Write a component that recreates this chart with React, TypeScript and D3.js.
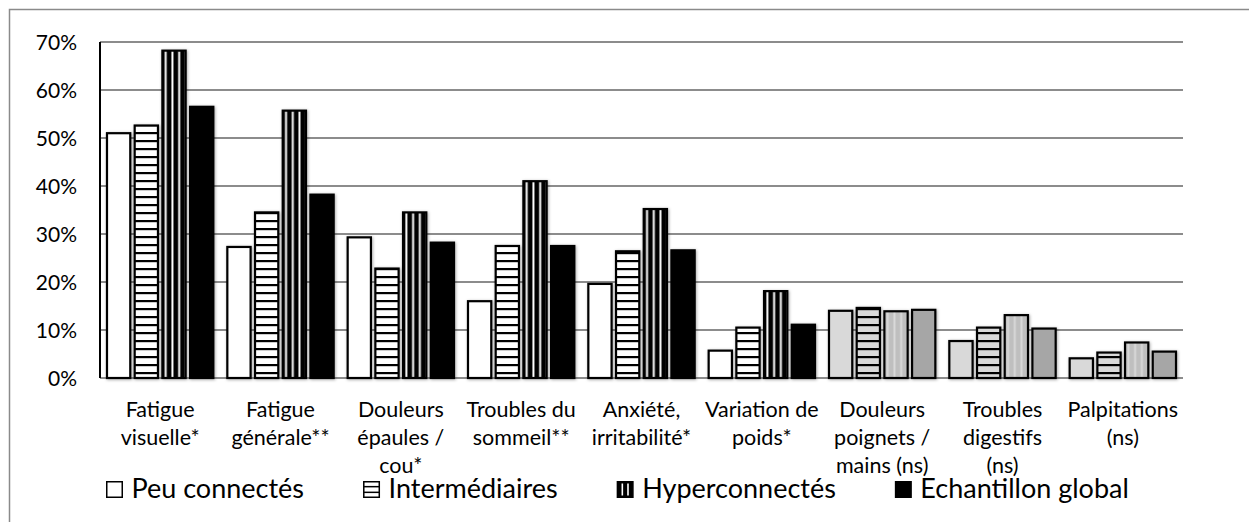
import { useRef, useEffect } from 'react'
import * as d3 from 'd3'

// category labels, already split into lines the way the chart wraps them
const categoryLines = [
  ['Fatigue', 'visuelle*'],
  ['Fatigue', 'générale**'],
  ['Douleurs', 'épaules /', 'cou*'],
  ['Troubles du', 'sommeil**'],
  ['Anxiété,', 'irritabilité*'],
  ['Variation de', 'poids*'],
  ['Douleurs', 'poignets /', 'mains (ns)'],
  ['Troubles', 'digestifs', '(ns)'],
  ['Palpitations', '(ns)'],
]

const seriesNames = ['Peu connectés', 'Intermédiaires', 'Hyperconnectés', 'Echantillon global']

const peuConnectes = [51.0, 27.3, 29.3, 16.0, 19.6, 5.7, 14.0, 7.7, 4.1]
const intermediaires = [52.6, 34.5, 22.8, 27.5, 26.4, 10.5, 14.6, 10.5, 5.3]
const hyperconnectes = [68.2, 55.7, 34.5, 41.0, 35.2, 18.1, 13.9, 13.1, 7.4]
const echantillonGlobal = [56.5, 38.2, 28.2, 27.5, 26.6, 11.1, 14.2, 10.3, 5.5]

const yTicks = [0, 10, 20, 30, 40, 50, 60, 70]

const W = 1249
const H = 522
const FONT = 'Lato, "Open Sans", sans-serif'

export default function App() {
  const svgRef = useRef<SVGSVGElement>(null)

  useEffect(() => {
    document.body.style.margin = '0'
    const svg = d3.select(svgRef.current)
    svg.selectAll('*').remove()

    const margin = { top: 42, right: 66, bottom: 144, left: 100 }
    const innerW = W - margin.left - margin.right
    const innerH = H - margin.top - margin.bottom

    const values = [peuConnectes, intermediaires, hyperconnectes, echantillonGlobal]
    const cats = categoryLines.map(l => l.join(' '))

    const x = d3.scaleBand().domain(cats).range([0, innerW]).padding(0)
    const xs = d3.scaleBand<number>()
      .domain(d3.range(seriesNames.length))
      .range([7, x.bandwidth() - 7])
      .paddingInner(0.16)
    const y = d3.scaleLinear().domain([0, 70]).range([innerH, 0])

    const defs = svg.append('defs')

    const shadow = defs.append('filter').attr('id', 'shadow')
      .attr('x', '-30%').attr('y', '-10%').attr('width', '160%').attr('height', '130%')
    shadow.append('feDropShadow')
      .attr('dx', 0.8).attr('dy', 0.8).attr('stdDeviation', 1.4)
      .attr('flood-color', '#000').attr('flood-opacity', 0.35)

    // horizontal stripes
    const hStripe = (id: string, bg: string) => {
      const p = defs.append('pattern').attr('id', id)
        .attr('patternUnits', 'userSpaceOnUse')
        .attr('y', margin.top + innerH)
        .attr('width', 8).attr('height', 8)
      p.append('rect').attr('width', 8).attr('height', 8).attr('fill', bg)
      p.append('rect').attr('width', 8).attr('height', 2.2).attr('fill', '#000')
    }
    hStripe('hs-white', '#fff')
    hStripe('hs-gray', '#d9d9d9')

    // vertical stripes, relative to each bar
    const vStripe = (id: string, bg: string, fg: string) => {
      const p = defs.append('pattern').attr('id', id)
        .attr('patternUnits', 'objectBoundingBox')
        .attr('patternContentUnits', 'objectBoundingBox')
        .attr('width', 0.29).attr('height', 1)
      p.append('rect').attr('width', 0.29).attr('height', 1).attr('fill', bg)
      p.append('rect').attr('x', 0.1).attr('width', 0.085).attr('height', 1).attr('fill', fg)
    }
    vStripe('vs-black', '#000', '#fff')
    vStripe('vs-gray', '#bfbfbf', '#d9d9d9')

    const fillFor = (s: number, ns: boolean) => {
      if (s === 0) return ns ? '#d9d9d9' : '#fff'
      if (s === 1) return ns ? 'url(#hs-gray)' : 'url(#hs-white)'
      if (s === 2) return ns ? 'url(#vs-gray)' : 'url(#vs-black)'
      return ns ? '#a6a6a6' : '#000'
    }

    // outer chart border
    svg.append('rect')
      .attr('x', 9.5).attr('y', 9.5)
      .attr('width', W + 10).attr('height', H + 10)
      .attr('fill', 'none').attr('stroke', '#8a8a8a').attr('stroke-width', 1.5)

    const g = svg.append('g').attr('transform', `translate(${margin.left},${margin.top})`)

    // grid
    g.selectAll('.grid')
      .data(yTicks)
      .enter()
      .append('line')
      .attr('x1', 0).attr('x2', innerW)
      .attr('y1', d => y(d)).attr('y2', d => y(d))
      .attr('stroke', '#8c8c8c').attr('stroke-width', 1.8)

    // bars
    const bars = g.append('g').attr('filter', 'url(#shadow)')
    cats.forEach((c, ci) => {
      const ns = c.includes('(ns)')
      values.forEach((vals, si) => {
        bars.append('rect')
          .attr('x', x(c)! + xs(si)!)
          .attr('y', y(vals[ci]))
          .attr('width', xs.bandwidth())
          .attr('height', y(0) - y(vals[ci]))
          .attr('fill', fillFor(si, ns))
          .attr('stroke', '#000')
          .attr('stroke-width', 2.2)
      })
    })

    // left axis line
    g.append('line')
      .attr('x1', 0).attr('x2', 0)
      .attr('y1', 0).attr('y2', innerH)
      .attr('stroke', '#000').attr('stroke-width', 2)

    // y tick labels
    g.selectAll('.ytick')
      .data(yTicks)
      .enter()
      .append('text')
      .attr('x', -23)
      .attr('y', d => y(d))
      .attr('dy', '0.36em')
      .attr('text-anchor', 'end')
      .attr('font-family', FONT)
      .attr('font-size', 21)
      .attr('fill', '#000')
      .text(d => `${d}%`)

    // category labels
    categoryLines.forEach((lines, ci) => {
      const t = g.append('text')
        .attr('x', x(cats[ci])! + x.bandwidth() / 2)
        .attr('y', innerH + 38.5)
        .attr('text-anchor', 'middle')
        .attr('font-family', FONT)
        .attr('font-size', 21.5)
        .attr('fill', '#000')
      lines.forEach((l, li) => {
        t.append('tspan')
          .attr('x', x(cats[ci])! + x.bandwidth() / 2)
          .attr('dy', li === 0 ? 0 : 28)
          .text(l)
      })
    })

    // legend
    const legend = svg.append('g').attr('transform', 'translate(106, 498)')
    const sym = 17
    let lx = 0
    seriesNames.forEach((name, si) => {
      const item = legend.append('g').attr('transform', `translate(${lx},0)`)
      item.append('rect')
        .attr('x', 0.75).attr('y', -sym + 0.75)
        .attr('width', sym - 1.5).attr('height', sym - 1.5)
        .attr('fill', si >= 2 ? '#000' : '#fff')
        .attr('stroke', '#000').attr('stroke-width', 1.5)
      if (si === 1) {
        ;[1 / 3, 2 / 3].forEach(f => {
          item.append('line')
            .attr('x1', 1).attr('x2', sym - 1)
            .attr('y1', -sym + sym * f).attr('y2', -sym + sym * f)
            .attr('stroke', '#000').attr('stroke-width', 1.5)
        })
      }
      if (si === 2) {
        ;[1 / 3, 2 / 3].forEach(f => {
          item.append('line')
            .attr('x1', sym * f).attr('x2', sym * f)
            .attr('y1', -sym + 2.5).attr('y2', -2.5)
            .attr('stroke', '#fff').attr('stroke-width', 1.6)
        })
      }
      const label = item.append('text')
        .attr('x', 25.5)
        .attr('y', 0)
        .attr('font-family', FONT)
        .attr('font-size', 27)
        .attr('fill', '#000')
        .text(name)
      const len = (label.node() as SVGTextElement).getComputedTextLength()
      lx += 25.5 + len + 59
    })
  }, [])

  return <svg ref={svgRef} width={W} height={H} style={{ display: 'block', background: '#fff' }} />
}
